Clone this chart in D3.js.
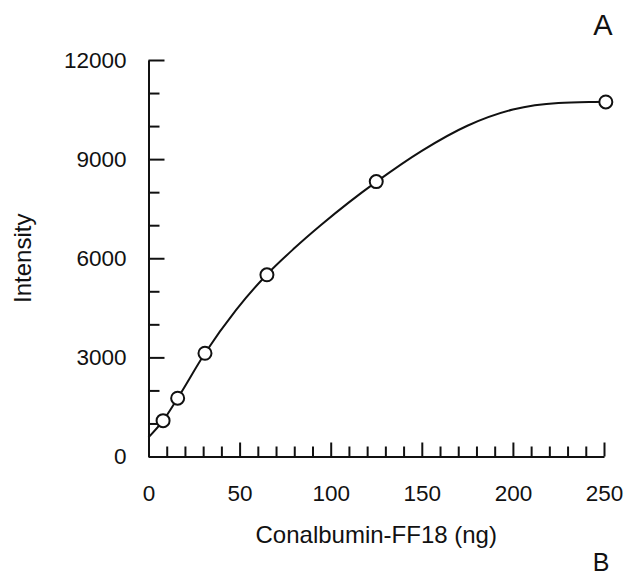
<!DOCTYPE html>
<html>
<head>
<meta charset="utf-8">
<script src="https://cdn.jsdelivr.net/npm/d3@7"></script>
<style>
  body { margin: 0; background: #fff; }
  svg { display: block; font-family: "Liberation Sans", Arial, Helvetica, sans-serif; }
</style>
</head>
<body>
<div id="graph"></div>
<script>
// measured points (ng, intensity)
var pointX = [8, 16, 31, 65, 125, 251];
var pointY = [1085, 1765, 3125, 5500, 8320, 10730];

// fitted curve
var curveX = [0, 8, 16, 31, 48, 65, 80, 95, 110, 125, 150, 175, 200, 225, 245, 251];
var curveY = [580, 1085, 1765, 3125, 4430, 5510, 6300, 7020, 7690, 8310, 9250, 10010, 10500, 10700, 10730, 10735];

var xMajor = [0, 50, 100, 150, 200, 250];
var xMinor = [10, 20, 30, 40, 60, 70, 80, 90, 110, 120, 130, 140, 160, 170, 180, 190, 210, 220, 230, 240];
var yMajor = [0, 3000, 6000, 9000, 12000];
var yMinor = [1000, 2000, 4000, 5000, 7000, 8000, 10000, 11000];

var svg = d3.select("#graph").append("svg")
    .attr("width", 626)
    .attr("height", 577);

var x = d3.scaleLinear().domain([0, 250]).range([148.5, 604]);
var y = d3.scaleLinear().domain([0, 12000]).range([456.5, 60]);

// x axis line + ticks pointing up
svg.append("g")
    .attr("transform", "translate(0,456.5)")
    .call(d3.axisTop(x).tickValues(xMajor).tickSize(14).tickSizeOuter(0).tickFormat(""));
svg.append("g")
    .attr("transform", "translate(0,456.5)")
    .call(d3.axisTop(x).tickValues(xMinor).tickSize(10).tickFormat(""))
    .select(".domain").remove();
// x labels
svg.append("g")
    .attr("transform", "translate(0,456.5)")
    .call(d3.axisBottom(x).tickValues(xMajor).tickSize(0).tickPadding(29))
    .call(function(g) { g.select(".domain").remove(); });

// y axis line + ticks pointing right
svg.append("g")
    .attr("transform", "translate(148.5,0)")
    .call(d3.axisRight(y).tickValues(yMajor).tickSize(16).tickSizeOuter(0).tickFormat(""));
svg.append("g")
    .attr("transform", "translate(148.5,0)")
    .call(d3.axisRight(y).tickValues(yMinor).tickSize(11).tickFormat(""))
    .select(".domain").remove();
// y labels
svg.append("g")
    .attr("transform", "translate(148.5,0)")
    .call(d3.axisLeft(y).tickValues(yMajor).tickSize(0).tickPadding(22).tickFormat(d3.format("d")))
    .call(function(g) { g.select(".domain").remove(); });

svg.selectAll(".domain, .tick line")
    .attr("stroke", "#111")
    .attr("stroke-width", 2);
svg.selectAll(".tick text")
    .attr("fill", "#111")
    .style("font-size", "22.5px");

// curve
var line = d3.line()
    .x(function(d) { return x(d[0]); })
    .y(function(d) { return y(d[1]); })
    .curve(d3.curveMonotoneX);

svg.append("path")
    .datum(d3.zip(curveX, curveY))
    .attr("d", line)
    .attr("fill", "none")
    .attr("stroke", "#111")
    .attr("stroke-width", 2);

// points
svg.selectAll("circle.pt")
    .data(d3.zip(pointX, pointY))
    .enter()
    .append("circle")
        .attr("class", "pt")
        .attr("cx", function(d) { return x(d[0]); })
        .attr("cy", function(d) { return y(d[1]); })
        .attr("r", 6.5)
        .attr("fill", "#fff")
        .attr("stroke", "#111")
        .attr("stroke-width", 2);

// axis titles
svg.append("text")
    .attr("x", (x(0) + x(250)) / 2)
    .attr("y", 543)
    .attr("text-anchor", "middle")
    .style("font-size", "24px")
    .attr("fill", "#111")
    .text("Conalbumin-FF18 (ng)");

svg.append("text")
    .attr("transform", "translate(31," + ((y(0) + y(12000)) / 2) + ") rotate(-90)")
    .attr("text-anchor", "middle")
    .style("font-size", "24px")
    .attr("fill", "#111")
    .text("Intensity");

// panel letters
svg.append("text")
    .attr("x", 603).attr("y", 35)
    .attr("text-anchor", "middle")
    .style("font-size", "29px")
    .attr("fill", "#111")
    .text("A");
svg.append("text")
    .attr("x", 601).attr("y", 571)
    .attr("text-anchor", "middle")
    .style("font-size", "25px")
    .attr("fill", "#111")
    .text("B");
</script>
</body>
</html>
